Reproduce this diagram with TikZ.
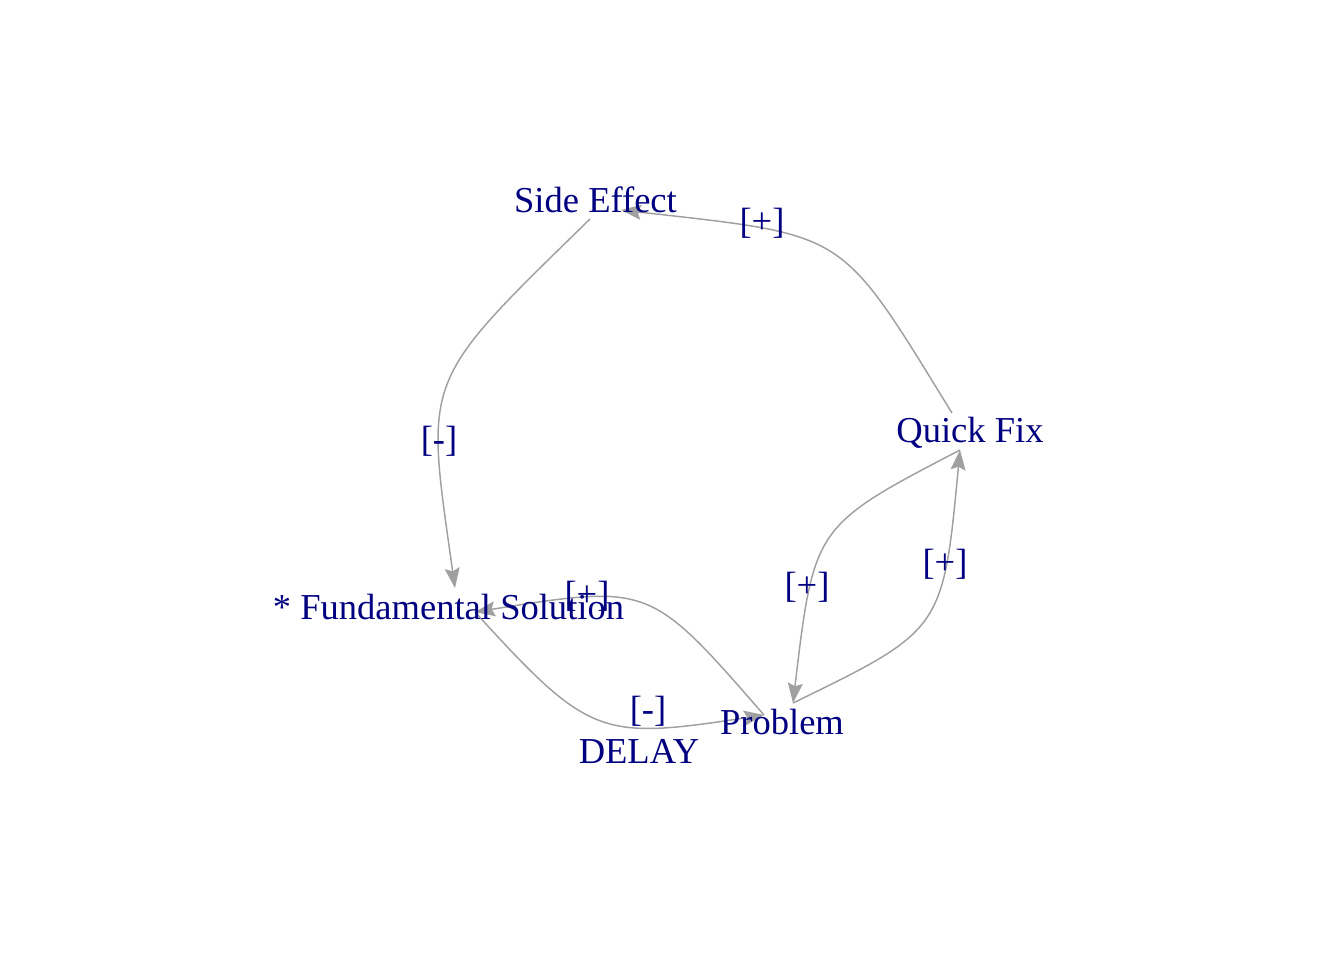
\documentclass[tikz,border=0pt]{standalone}
\usepackage{fontspec}
\setmainfont{Liberation Serif}
\usetikzlibrary{arrows.meta}
\definecolor{navyc}{RGB}{0,0,128}
\definecolor{edgec}{RGB}{160,160,160}
\begin{document}
\begin{tikzpicture}[x=0.375pt,y=-0.375pt,
  vlabel/.style={text=navyc, font=\fontsize{13.7}{16}\selectfont, inner sep=0pt, anchor=base},
  elabel/.style={vlabel},
  edgeline/.style={draw=edgec, line width=0.55pt,
    -{Stealth[length=7.5pt,width=5.6pt,inset=1.2pt]}}]
\useasboundingbox (0,0) rectangle (1344,960);
% vertex ports (edge end points)
\coordinate (seOut) at (590,219);
\coordinate (seIn) at (621,210);
\coordinate (qfTop) at (952,413);
\coordinate (qfBot) at (960,450);
\coordinate (prLeft) at (764,715);
\coordinate (prRight) at (793,703);
\coordinate (fsTop) at (455,588);
\coordinate (fsRight) at (475,612);
% edges
\draw[edgeline] (qfTop) .. controls (838,228) and (850,236) .. (seIn);
\draw[edgeline] (seOut) .. controls (420,385) and (425,375) .. (fsTop);
\draw[edgeline] (fsRight) .. controls (590,738) and (600,740) .. (prLeft);
\draw[edgeline] (prLeft) .. controls (650,584) and (650,584) .. (fsRight);
\draw[edgeline] (qfBot) .. controls (814,526) and (814,526) .. (prRight);
\draw[edgeline] (prRight) .. controls (943,630) and (943,630) .. (qfBot);
% vertex labels
\node[vlabel] (seL) at (595.5,212) {Side Effect};
\node[vlabel] (qfL) at (970,442) {Quick Fix};
\node[vlabel] (prL) at (782,734) {Problem};
\node[vlabel] (fsL) at (448.5,619) {* Fundamental Solution};
% edge labels
\node[elabel] (l1) at (762,233) {[+]};
\node[elabel] (l2) at (439,451) {[-]};
\node[elabel] (l3) at (648,721) {[-]};
\node[elabel] (l3b) at (639,763) {DELAY};
\node[elabel] (l4) at (587,606) {[+]};
\node[elabel] (l5) at (807,597) {[+]};
\node[elabel] (l6) at (945,574) {[+]};
\end{tikzpicture}
\end{document}
